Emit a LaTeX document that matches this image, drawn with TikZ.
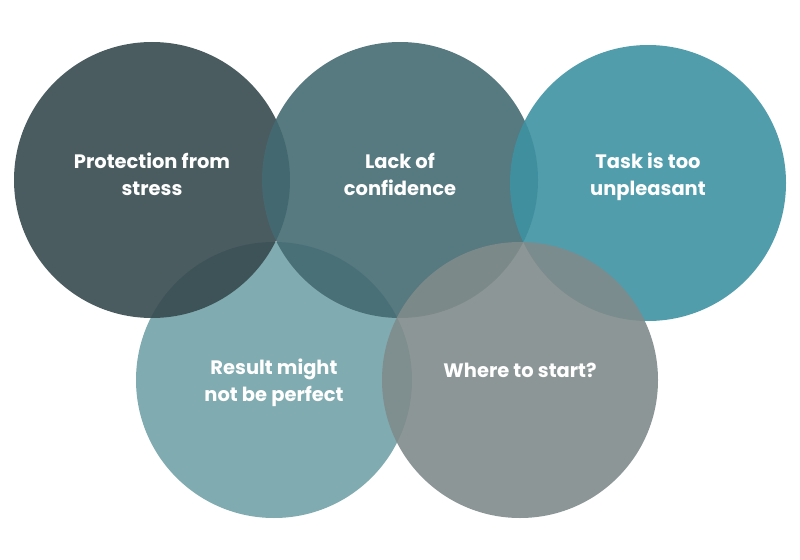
\documentclass[tikz,border=0pt]{standalone}
\usepackage{fontspec}
\setmainfont{Poppins}
\usetikzlibrary{positioning}

\definecolor{stressgrey}{RGB}{54,74,79}
\definecolor{confslate}{RGB}{69,106,114}
\definecolor{taskteal}{RGB}{62,146,162}
\definecolor{resultteal}{RGB}{114,162,167}
\definecolor{startgrey}{RGB}{128,139,139}

\begin{document}
\begin{tikzpicture}[
    x=0.75pt, y=-0.75pt,
    disc/.style={circle, minimum size=207pt, inner sep=0pt, fill opacity=0.9},
    lbl/.style={text=white, align=center, font=\fontsize{14.6}{20.3}\selectfont\bfseries}
]
\useasboundingbox (0,0) rectangle (800,560);

% Circles
\node (result) [disc, fill=resultteal] at (274,380) {};
\node (stress) [disc, fill=stressgrey] at (152,180) {};
\node (confidence) [disc, fill=confslate] at (400,180) {};
\node (task) [disc, fill=taskteal] at (648,183) {};
\node (start) [disc, fill=startgrey] at (520,380) {};

% Labels
\node (stresstext) [lbl, yshift=4.5pt] at (stress) {Protection from\\stress};
\node (confidencetext) [lbl, yshift=4.5pt] at (confidence) {Lack of\\confidence};
\node (tasktext) [lbl, yshift=5pt] at (task) {Task is too\\unpleasant};
\node (resulttext) [lbl, yshift=-2pt] at (result) {Result might\\not be perfect};
\node (starttext) [lbl, yshift=7pt] at (start) {Where to start?};

\end{tikzpicture}
\end{document}
